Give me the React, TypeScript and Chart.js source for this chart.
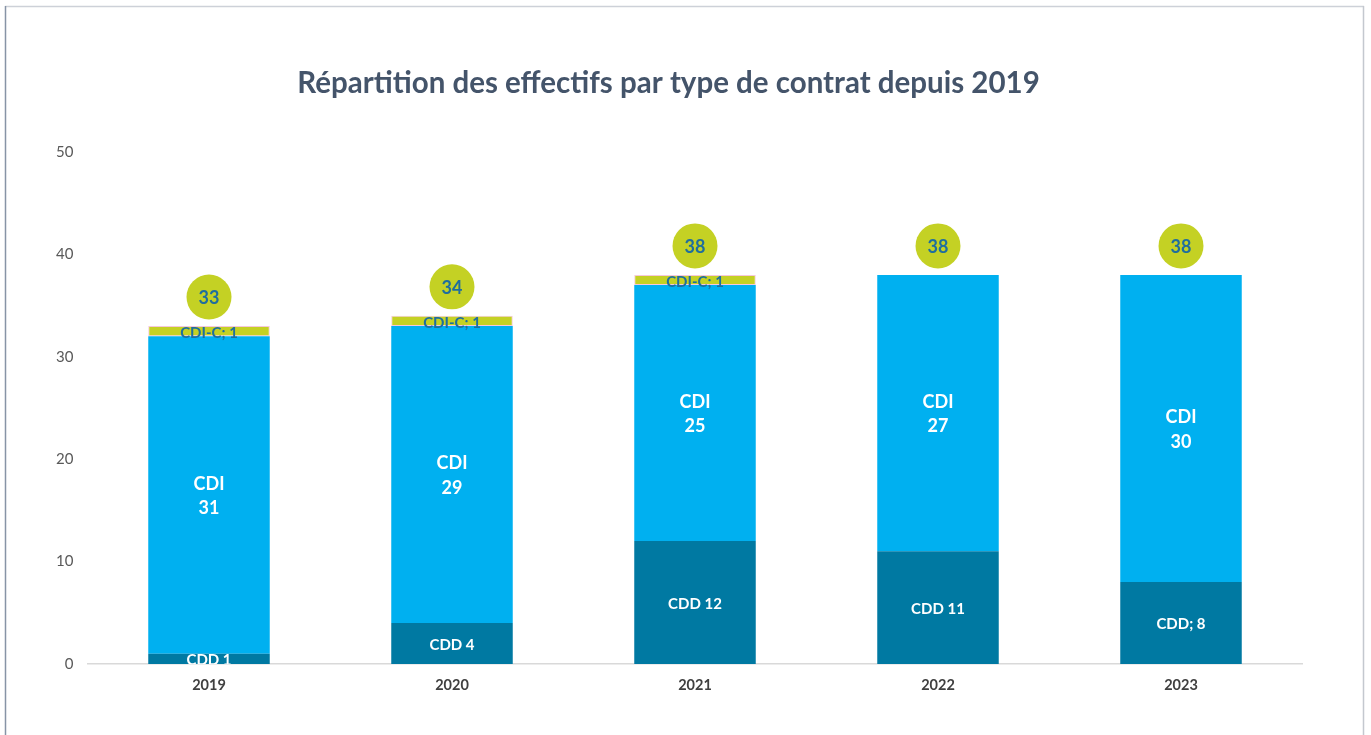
import React, { useEffect, useRef } from "react";
import { Chart, registerables } from "chart.js";

Chart.register(...registerables);

const titleText = "Répartition des effectifs par type de contrat depuis 2019";
const categories = ["2019", "2020", "2021", "2022", "2023"];
const cddValues = [1, 4, 12, 11, 8];
const cdiValues = [31, 29, 25, 27, 30];
const cdicValues: (number | null)[] = [1, 1, 1, null, null];
const cddLabelPrefixes = ["CDD ", "CDD ", "CDD ", "CDD ", "CDD; "];
const cdicLabelPrefix = "CDI-C; ";
const cdiLabelName = "CDI";
const yMin = 0;
const yMax = 50;
const yStep = 10;

const COL_CDD = "#0079A2";
const COL_CDI = "#00B0F0";
const COL_CDIC = "#C4D124";
const COL_TEXT_BLUE = "#1F6E9E";
const FONT = "Lato, 'Open Sans', sans-serif";

const frameAndTitle = {
  id: "frameAndTitle",
  beforeDraw(chart: any) {
    const ctx = chart.ctx;
    ctx.save();
    ctx.fillStyle = "#ffffff";
    ctx.fillRect(0, 0, chart.width, chart.height);
    ctx.lineWidth = 1.5;
    ctx.strokeStyle = "#CDD1D8";
    ctx.beginPath();
    ctx.moveTo(5, 6.5);
    ctx.lineTo(1364, 6.5);
    ctx.stroke();
    ctx.strokeStyle = "#C4C8CF";
    ctx.beginPath();
    ctx.moveTo(1363.5, 6);
    ctx.lineTo(1363.5, 735);
    ctx.stroke();
    ctx.strokeStyle = "#8794A6";
    ctx.beginPath();
    ctx.moveTo(5.5, 6);
    ctx.lineTo(5.5, 735);
    ctx.stroke();
    ctx.fillStyle = "#44546A";
    ctx.font = `bold 29.5px ${FONT}`;
    ctx.textAlign = "center";
    ctx.textBaseline = "middle";
    ctx.fillText(titleText, 668.5, 83);
    ctx.restore();
  },
};

const labelsPlugin = {
  id: "segLabels",
  afterDatasetsDraw(chart: any) {
    const ctx = chart.ctx;
    const area = chart.chartArea;
    ctx.save();
    ctx.textAlign = "center";
    ctx.textBaseline = "middle";

    // CDD labels (clipped to plot area)
    ctx.save();
    ctx.beginPath();
    ctx.rect(area.left, area.top - 200, area.right - area.left, area.bottom - area.top + 200);
    ctx.clip();
    const m0 = chart.getDatasetMeta(0);
    m0.data.forEach((bar: any, i: number) => {
      const cy = (bar.y + bar.base) / 2;
      ctx.font = `bold 15px ${FONT}`;
      ctx.fillStyle = "#ffffff";
      ctx.fillText(cddLabelPrefixes[i] + cddValues[i], bar.x, cy + 1.5);
    });
    ctx.restore();

    // CDI labels
    const m1 = chart.getDatasetMeta(1);
    m1.data.forEach((bar: any, i: number) => {
      const cy = (bar.y + bar.base) / 2;
      ctx.font = `bold 18px ${FONT}`;
      ctx.fillStyle = "#ffffff";
      ctx.fillText(cdiLabelName, bar.x, cy - 11);
      ctx.fillText(String(cdiValues[i]), bar.x, cy + 13.5);
    });

    // CDI-C labels
    const m2 = chart.getDatasetMeta(2);
    m2.data.forEach((bar: any, i: number) => {
      const v = cdicValues[i];
      if (v == null) return;
      const cy = (bar.y + bar.base) / 2;
      ctx.font = `bold 15px ${FONT}`;
      ctx.fillStyle = COL_TEXT_BLUE;
      ctx.fillText(cdicLabelPrefix + v, bar.x, cy + 2);
    });

    // Totals in circles
    const yScale = chart.scales.y;
    categories.forEach((_, i) => {
      const total = cddValues[i] + cdiValues[i] + (cdicValues[i] ?? 0);
      const x = m0.data[i].x;
      const y = yScale.getPixelForValue(total) - 29;
      ctx.beginPath();
      ctx.fillStyle = COL_CDIC;
      ctx.arc(x, y, 22.5, 0, Math.PI * 2);
      ctx.fill();
      ctx.font = `bold 18px ${FONT}`;
      ctx.fillStyle = COL_TEXT_BLUE;
      ctx.fillText(String(total), x, y + 1);
    });

    ctx.restore();
  },
};

export default function App() {
  const ref = useRef<HTMLCanvasElement | null>(null);
  useEffect(() => {
    if (!ref.current) return;
    const chart = new Chart(ref.current, {
      type: "bar",
      data: {
        labels: categories,
        datasets: [
          {
            label: "CDD",
            data: cddValues,
            backgroundColor: COL_CDD,
            borderWidth: 0,
            barPercentage: 0.5,
            categoryPercentage: 1,
          },
          {
            label: "CDI",
            data: cdiValues,
            backgroundColor: COL_CDI,
            borderWidth: 0,
            barPercentage: 0.5,
            categoryPercentage: 1,
          },
          {
            label: "CDI-C",
            data: cdicValues,
            backgroundColor: COL_CDIC,
            borderColor: "#F6C8DA",
            borderWidth: 1,
            borderSkipped: false,
            barPercentage: 0.5,
            categoryPercentage: 1,
          },
        ],
      },
      options: {
        responsive: false,
        animation: false,
        layout: { padding: { left: 0, right: 68.5, top: 152, bottom: 31 } },
        plugins: {
          legend: { display: false },
          title: { display: false },
          tooltip: { enabled: false },
        },
        scales: {
          x: {
            stacked: true,
            grid: { display: false, drawTicks: false },
            border: { display: true, color: "#D9D9D9", width: 1.5 },
            ticks: {
              color: "#404040",
              font: { family: FONT, size: 14.5, weight: "bold" },
              padding: 13,
            },
            afterFit(scale: any) {
              scale.height = 40;
            },
          },
          y: {
            stacked: true,
            min: yMin,
            max: yMax,
            grid: { display: false, drawTicks: false },
            border: { display: false },
            ticks: {
              stepSize: yStep,
              color: "#595959",
              font: { family: FONT, size: 15 },
              padding: 14,
            },
            afterFit(scale: any) {
              scale.width = 87.5;
            },
          },
        },
      },
      plugins: [frameAndTitle, labelsPlugin],
    } as any);
    return () => chart.destroy();
  }, []);
  return (
    <div style={{ position: "absolute", left: 0, top: 0, width: 1371, height: 735 }}>
      <canvas ref={ref} width={1371} height={735} style={{ display: "block" }} />
    </div>
  );
}
